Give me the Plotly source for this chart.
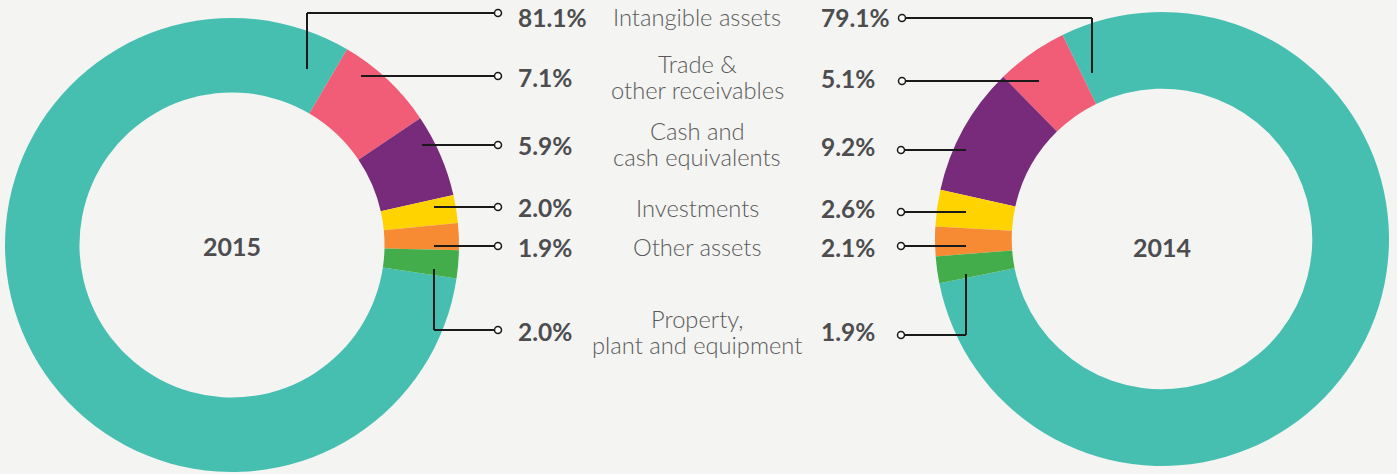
import plotly.graph_objects as go

# Data
categories = ["Intangible assets", "Trade &<br>other receivables", "Cash and<br>cash equivalents",
              "Investments", "Other assets", "Property,<br>plant and equipment"]
share_2015 = [81.1, 7.1, 5.9, 2.0, 1.9, 2.0]
share_2014 = [79.1, 5.1, 9.2, 2.6, 2.1, 1.9]
years = ["2015", "2014"]
colors = ["#46BFB1", "#F15C76", "#782B7A", "#FFD300", "#F68B33", "#42AD4A"]

W, H = 1397, 474
BG = "#F4F4F2"
DARK = "#4D4D4F"

# layout: row heights (px) of each label row, leader lines
row_y_left = [17, 77, 145, 207, 247, 331]
row_y_right = [17, 78, 146, 208, 247, 331]
label_y = [17, 77, 144, 208, 247, 332]
LINE_GAP = 26
# leader line paths (pixel coords) for each slice: list of points ending at the small circle
leaders_left = [
    [(307, 69), (307, 13), (498, 13)],
    [(361, 76), (498, 76)],
    [(422, 145), (498, 145)],
    [(434, 207), (498, 207)],
    [(434, 246), (498, 246)],
    [(434, 269), (434, 330), (498, 330)],
]
leaders_right = [
    [(1092, 73), (1092, 18), (902, 18)],
    [(1039, 81), (902, 81)],
    [(966, 150), (901, 150)],
    [(966, 212), (901, 212)],
    [(966, 246), (901, 246)],
    [(966, 274), (966, 335), (901, 335)],
]


def dom(cx, cy, r):
    return dict(x=[(cx - r) / W, (cx + r) / W], y=[(H - cy - r) / H, (H - cy + r) / H])


fig = go.Figure()
fig.add_trace(go.Pie(
    labels=categories, values=share_2015, sort=False, direction="clockwise", rotation=98.5,
    hole=0.672, marker=dict(colors=colors, line=dict(width=0)), textinfo="none",
    domain=dom(232, 245, 227), showlegend=False,
))
fig.add_trace(go.Pie(
    labels=categories, values=share_2014, sort=False, direction="counterclockwise", rotation=-26,
    hole=0.662, marker=dict(colors=colors, line=dict(width=0)), textinfo="none",
    domain=dom(1162, 239, 227), showlegend=False,
))

shapes = []
for paths in (leaders_left, leaders_right):
    for pts in paths:
        for (x0, y0), (x1, y1) in zip(pts[:-1], pts[1:]):
            shapes.append(dict(type="line", xref="x", yref="y", x0=x0, y0=y0, x1=x1, y1=y1,
                               line=dict(color="#1A1A1A", width=2)))
        ex, ey = pts[-1]
        shapes.append(dict(type="circle", xref="x", yref="y", x0=ex - 3.5, x1=ex + 3.5,
                           y0=ey - 3.5, y1=ey + 3.5, fillcolor="white",
                           line=dict(color="#1A1A1A", width=1.5)))

annotations = []
for yr, (cx, cy) in zip(years, [(232, 246), (1162, 247)]):
    annotations.append(dict(x=cx, y=cy, xref="x", yref="y", text=f"<b>{yr}</b>",
                            showarrow=False, xanchor="center", yanchor="middle",
                            font=dict(family="Lato", size=25, color=DARK)))
for v, y in zip(share_2015, row_y_left):
    annotations.append(dict(x=516, y=y, xref="x", yref="y", text=f"<b>{v:.1f}%</b>",
                            showarrow=False, xanchor="left", yanchor="middle",
                            font=dict(family="Lato", size=24.5, color=DARK)))
for v, y in zip(share_2014, row_y_right):
    annotations.append(dict(x=819, y=y, xref="x", yref="y", text=f"<b>{v:.1f}%</b>",
                            showarrow=False, xanchor="left", yanchor="middle",
                            font=dict(family="Lato", size=24.5, color=DARK)))
for c, y in zip(categories, label_y):
    lines = c.split("<br>")
    y0 = y - LINE_GAP * (len(lines) - 1) / 2
    for i, ln in enumerate(lines):
        annotations.append(dict(x=697, y=y0 + i * LINE_GAP, xref="x", yref="y", text=ln,
                                showarrow=False, xanchor="center", yanchor="middle",
                                font=dict(family="Lato", size=23.7, weight=300, color="#5A5A5A")))

fig.update_layout(
    width=W, height=H, margin=dict(l=0, r=0, t=0, b=0),
    paper_bgcolor=BG, plot_bgcolor="rgba(0,0,0,0)",
    xaxis=dict(range=[0, W], visible=False, fixedrange=True),
    yaxis=dict(range=[H, 0], visible=False, fixedrange=True),
    shapes=shapes, annotations=annotations,
)

fig.write_html("out.html", config={"displayModeBar": False},
               post_script="document.body.style.margin='0';document.body.style.background='%s';" % BG)
